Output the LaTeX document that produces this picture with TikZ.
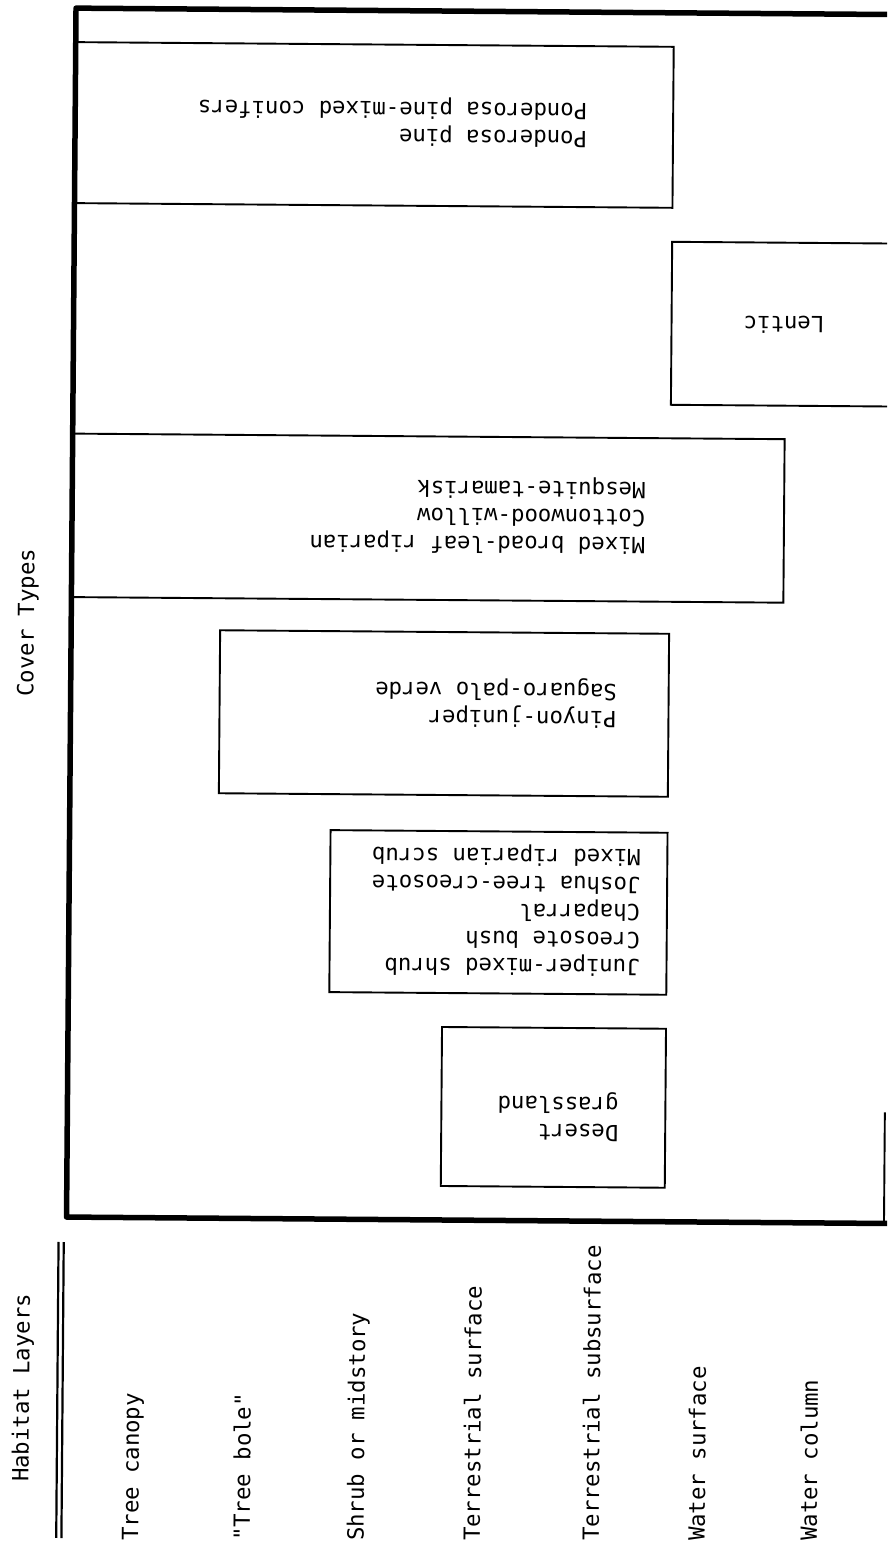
\documentclass[tikz,border=0pt]{standalone}
\usepackage{fontspec}
\setmonofont{DejaVu Sans Mono}
\begin{document}
\begin{tikzpicture}[x=1pt,y=-1pt,
  txt/.style={font=\fontsize{22.3}{27.5}\selectfont\ttfamily, inner sep=0pt, align=left},
  boxtext/.style={txt, rotate=179.55, anchor=center},
  layer/.style={txt, rotate=89.55, anchor=west},
  frameline/.style={line width=5.5pt, line join=round},
  boxline/.style={line width=1.9pt, line join=miter}]
\useasboundingbox (0,0) rectangle (887,1549);
\clip (0,0) rectangle (887,1549);
\begin{scope}[rotate around={-0.45:(443,775)}]
  % main frame
  \draw[frameline] (900,11) -- (70,11) -- (70,1220) -- (900,1220);
  \draw[boxline] (887.5,1109) -- (887.5,1220);
  % cover type boxes
  \draw[boxline] (70,45) rectangle (668,206);
  \draw[boxline] (900,240) -- (668,240) -- (668,403) -- (900,403);
  \draw[boxline] (70,436.5) rectangle (782,600);
  \draw[boxline] (219,632) rectangle (668,795);
  \draw[boxline] (331,831) rectangle (668,993);
  \draw[boxline] (444,1027) rectangle (668,1186);
  % box texts
  \node[boxtext] (ponderosa) at (387.4,122.4) {Ponderosa pine\\Ponderosa pine-mixed conifers};
  \node[boxtext] (lentic) at (780.5,322.3) {Lentic};
  \node[boxtext] (broadleaf) at (475.5,514.7) {Mixed broad-leaf riparian\\Cottonwood-willow\\Mesquite-tamarisk};
  \node[boxtext] (pinyon) at (495.4,702.6) {Pinyon-juniper\\Saguaro-palo verde};
  \node[boxtext] (juniper) at (507,909.5) {Juniper-mixed shrub\\Creosote bush\\Chaparral\\Joshua tree-creosote\\Mixed riparian scrub};
  \node[boxtext] (desert) at (560.7,1115.6) {Desert\\grassland};
  % headings
  \node[txt, rotate=89.55, anchor=center] (cover) at (26.8,626) {Cover Types};
  \node[layer] (habitat) at (27.8,1485.3) {Habitat Layers};
  \draw[line width=2.2pt] (62.2,1245) -- (62.2,1541);
  \draw[line width=2.2pt] (67.4,1245) -- (67.4,1541);
  % habitat layers
  \node[layer] (canopy) at (138.4,1543.4) {Tree canopy};
  \node[layer] (bole) at (247.4,1542.6) {"Tree bole"};
  \node[layer] (shrub) at (363.4,1541.7) {Shrub or midstory};
  \node[layer] (tsurf) at (477.4,1540.8) {Terrestrial surface};
  \node[layer] (tsub) at (596.4,1539.8) {Terrestrial subsurface};
  \node[layer] (wsurf) at (702.4,1539) {Water surface};
  \node[layer] (wcol) at (814.4,1538) {Water column};
\end{scope}
\end{tikzpicture}
\end{document}
